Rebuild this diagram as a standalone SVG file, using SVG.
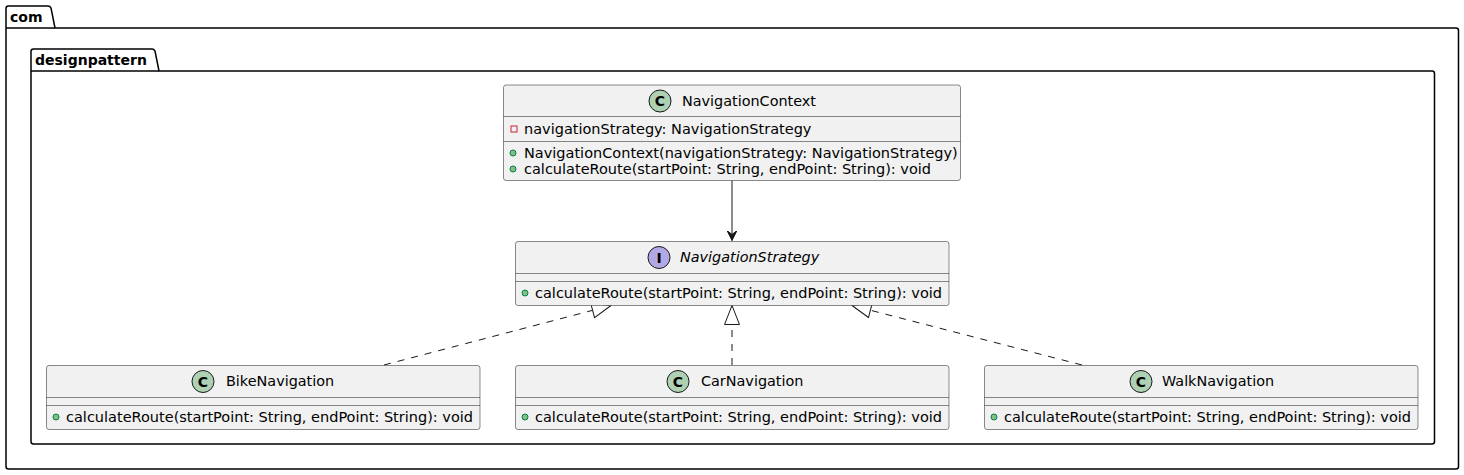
<svg xmlns="http://www.w3.org/2000/svg" width="1464" height="475" viewBox="0 0 1464 475">
<style>
text{font-family:"DejaVu Sans","Liberation Sans",sans-serif;fill:#000}
.pkg{fill:none;stroke:#000;stroke-width:1.5}
.pt{font-size:14px;font-weight:bold}
.box{fill:#F1F1F1;stroke:#181818;stroke-width:0.5}
.div{stroke:#181818;stroke-width:0.5}
.nm{font-size:14.4px}
.mb{font-size:14.5px}
.cc{fill:#ADD1B2;stroke:#181818;stroke-width:1}
.ci{fill:#B4A7E5;stroke:#181818;stroke-width:1}
.lt{font-size:14px;font-weight:bold}
.pub{fill:#84BE84;stroke:#038048;stroke-width:1}
.prv{fill:none;stroke:#C82930;stroke-width:1}
.ln{stroke:#181818;stroke-width:1;fill:none}
.dash{stroke-dasharray:7,7}
</style>
<defs>
<marker id="vee" markerWidth="12" markerHeight="12" refX="10" refY="5" orient="auto" markerUnits="userSpaceOnUse" viewBox="0 0 12 10">
<path d="M0,0 L10,5 L0,10 L4,5 Z" fill="#181818" stroke="#181818" stroke-width="1"/>
</marker>
<marker id="tri" markerWidth="22" markerHeight="22" refX="19" refY="10" orient="auto" markerUnits="userSpaceOnUse" viewBox="-1 -1 22 22">
<path d="M0,2.5 L19,10 L0,17.5 Z" fill="#FFFFFF" stroke="#181818" stroke-width="1"/>
</marker>
</defs>
<g id="pkg-com">
<path class="pkg" d="M8.5,6 L48,6 Q50,6 51,8 L55,28 L1456,28 Q1458.5,28 1458.5,30.5 L1458.5,466.5 Q1458.5,469 1456,469 L8.5,469 Q6,469 6,466.5 L6,8.5 Q6,6 8.5,6 Z"/>
<line class="pkg" x1="6" y1="28" x2="55" y2="28"/>
<text class="pt" x="10" y="21.5">com</text>
</g>
<g id="pkg-designpattern">
<path class="pkg" d="M33.5,49 L152,49 Q154,49 155,51 L159,71 L1432,71 Q1434.5,71 1434.5,73.5 L1434.5,441.5 Q1434.5,444 1432,444 L33.5,444 Q31,444 31,441.5 L31,51.5 Q31,49 33.5,49 Z"/>
<line class="pkg" x1="31" y1="71" x2="159" y2="71"/>
<text class="pt" x="35" y="64.5">designpattern</text>
</g>
<g id="connectors">
<line class="ln" x1="732" y1="180.5" x2="732" y2="240.5" marker-end="url(#vee)"/>
<line class="ln dash" x1="384" y1="365" x2="611" y2="305.5" marker-end="url(#tri)"/>
<line class="ln dash" x1="732" y1="365" x2="732" y2="305.5" marker-end="url(#tri)"/>
<line class="ln dash" x1="1082" y1="365" x2="852" y2="305.5" marker-end="url(#tri)"/>
</g>
<g id="NavigationContext">
<rect class="box" x="503.5" y="85" width="457" height="95.5" rx="2.5"/>
<circle class="cc" cx="660" cy="101" r="11"/>
<text class="lt" x="660" y="106" text-anchor="middle">C</text>
<text class="nm" x="682" y="105.5">NavigationContext</text>
<line class="div" x1="503.5" y1="116.5" x2="960.5" y2="116.5"/>
<rect class="prv" x="511" y="126" width="6" height="6"/>
<text class="mb" x="524" y="133.5">navigationStrategy: NavigationStrategy</text>
<line class="div" x1="503.5" y1="141.5" x2="960.5" y2="141.5"/>
<circle class="pub" cx="513" cy="153" r="3"/>
<text class="mb" x="524" y="157.5">NavigationContext(navigationStrategy: NavigationStrategy)</text>
<circle class="pub" cx="513" cy="169" r="3"/>
<text class="mb" x="524" y="173.5">calculateRoute(startPoint: String, endPoint: String): void</text>
</g>
<g id="NavigationStrategy">
<rect class="box" x="515.5" y="241.5" width="433.5" height="64" rx="2.5"/>
<circle class="ci" cx="659" cy="257.5" r="11"/>
<text class="lt" x="659" y="262.5" text-anchor="middle">I</text>
<text class="nm" x="680" y="262" font-style="italic">NavigationStrategy</text>
<line class="div" x1="515.5" y1="273.5" x2="949" y2="273.5"/>
<line class="div" x1="515.5" y1="281.5" x2="949" y2="281.5"/>
<circle class="pub" cx="525" cy="293" r="3"/>
<text class="mb" x="535" y="297.5">calculateRoute(startPoint: String, endPoint: String): void</text>
</g>
<g id="BikeNavigation">
<rect class="box" x="46.5" y="365.5" width="433.5" height="64" rx="2.5"/>
<circle class="cc" cx="203" cy="381.5" r="11"/>
<text class="lt" x="203" y="386.5" text-anchor="middle">C</text>
<text class="nm" x="226" y="386">BikeNavigation</text>
<line class="div" x1="46.5" y1="397.5" x2="480" y2="397.5"/>
<line class="div" x1="46.5" y1="405.5" x2="480" y2="405.5"/>
<circle class="pub" cx="56" cy="417" r="3"/>
<text class="mb" x="66" y="421.5">calculateRoute(startPoint: String, endPoint: String): void</text>
</g>
<g id="CarNavigation">
<rect class="box" x="515.5" y="365.5" width="433.5" height="64" rx="2.5"/>
<circle class="cc" cx="678" cy="381.5" r="11"/>
<text class="lt" x="678" y="386.5" text-anchor="middle">C</text>
<text class="nm" x="701" y="386">CarNavigation</text>
<line class="div" x1="515.5" y1="397.5" x2="949" y2="397.5"/>
<line class="div" x1="515.5" y1="405.5" x2="949" y2="405.5"/>
<circle class="pub" cx="525" cy="417" r="3"/>
<text class="mb" x="535" y="421.5">calculateRoute(startPoint: String, endPoint: String): void</text>
</g>
<g id="WalkNavigation">
<rect class="box" x="984.5" y="365.5" width="433.5" height="64" rx="2.5"/>
<circle class="cc" cx="1141" cy="381.5" r="11"/>
<text class="lt" x="1141" y="386.5" text-anchor="middle">C</text>
<text class="nm" x="1162" y="386">WalkNavigation</text>
<line class="div" x1="984.5" y1="397.5" x2="1418" y2="397.5"/>
<line class="div" x1="984.5" y1="405.5" x2="1418" y2="405.5"/>
<circle class="pub" cx="994" cy="417" r="3"/>
<text class="mb" x="1004" y="421.5">calculateRoute(startPoint: String, endPoint: String): void</text>
</g>
</svg>
